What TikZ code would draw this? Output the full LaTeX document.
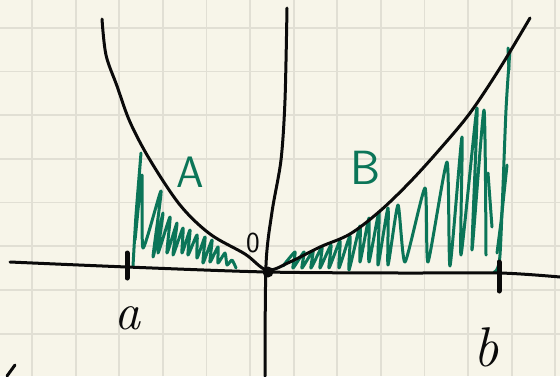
\documentclass[tikz,border=0pt]{standalone}
\usepackage{fontspec}
\definecolor{paper}{HTML}{F7F5E9}
\definecolor{gridc}{HTML}{E1DFD4}
\definecolor{ink}{HTML}{0A0A0A}
\definecolor{hatch}{HTML}{0B7558}
\begin{document}
\begin{tikzpicture}[x=1pt,y=-1pt,
  curve/.style={draw=ink,line width=3pt,line cap=round,line join=round},
  hatchline/.style={draw=hatch,line width=3pt,line cap=round,line join=round},
  tickmark/.style={draw=ink,line width=5pt,line cap=round},
  gridline/.style={draw=gridc,line width=1.8pt},
  greenlabel/.style={text=hatch,inner sep=0pt},
  blacklabel/.style={text=ink,inner sep=0pt}]
\fill[paper] (0,0) rectangle (560,376);
\useasboundingbox (0,0) rectangle (560,376);
% grid
\foreach \i in {0,...,12} \draw[gridline] ({32+43.6*\i},0) -- ({32+43.6*\i},376);
\foreach \j in {0,...,7} \draw[gridline] (0,{27.7+43.7*\j}) -- (560,{27.7+43.7*\j});
% hatching A
\draw[hatchline] plot[smooth,tension=0.35] coordinates {(133,266) (136,215) (141,153) (137,205) (135,240) (142,175) (143,248)
  (161,191) (153,257) (163,213) (158,253) (170,217) (167,253) (177,223) (173,255)
  (183,228) (182,253) (190,230) (188,255) (197,235) (197,258) (205,237) (203,263)
  (212,240) (210,262) (218,247) (218,263) (225,253) (227,265) (232,260) (236,268)};
% hatching B
\draw[hatchline] plot[smooth,tension=0.35] coordinates {(283,266) (295,252) (293,268) (304,252) (302,268) (313,251) (311,268)
  (322,247) (320,268) (331,245) (329,268) (340,241) (339,268) (350,236) (349,270)
  (360,226) (360,262) (369,218) (369,262) (379,212) (378,265) (388,208) (388,265)
  (398,205) (405,262) (425,188) (428,262) (447,162) (450,266) (462,137) (461,255)
  (477,108) (472,250) (484,110) (486,255)};
\draw[hatchline] plot[smooth,tension=0.4] coordinates {(510,50) (506,110) (500,255) (494,272)};
\draw[hatchline] (508,48) -- (509,70);
\draw[hatchline] (507,165) -- (501,222) -- (497,253);
\draw[hatchline] (488,173) -- (492,227);
% axes
\draw[curve] plot[smooth,tension=0.5] coordinates {(10,262) (127,267) (267,272) (400,273) (500,273) (560,277)};
\draw[curve] plot[smooth,tension=0.5] coordinates {(287,8) (285,100) (281,160) (272,212) (266,265) (265,376)};
% parabola
\draw[curve] plot[smooth,tension=0.55] coordinates {(102,19) (106,55) (117,86) (130,122) (150,160) (180,205) (210,234) (245,254) (267,270) (290,262) (320,247) (350,234) (380,211) (410,182) (440,149) (470,113) (500,68) (530,18)};
% origin dot and ticks
\fill[ink] (268,272) circle (5.5);
\draw[tickmark] (127,253) -- (127,278);
\draw[tickmark] (499,262) -- (499,291);
% stray stroke
\draw[curve] (7,376) -- (15,365);
% labels
\node[greenlabel,font=\sffamily\fontsize{44}{44}\selectfont] (labA) at (190,172) {A};
\node[greenlabel,font=\sffamily\fontsize{48}{48}\selectfont] (labB) at (366,168) {B};
\node[blacklabel,font=\sffamily\fontsize{29}{29}\selectfont] (lab0) at (253,243) {0};
\node[blacklabel,font=\itshape\fontsize{52}{52}\selectfont] (laba) at (127,318) {a};
\node[blacklabel,anchor=base,font=\itshape\fontsize{56}{56}\selectfont] (labb) at (486,366) {b};
\end{tikzpicture}
\end{document}
